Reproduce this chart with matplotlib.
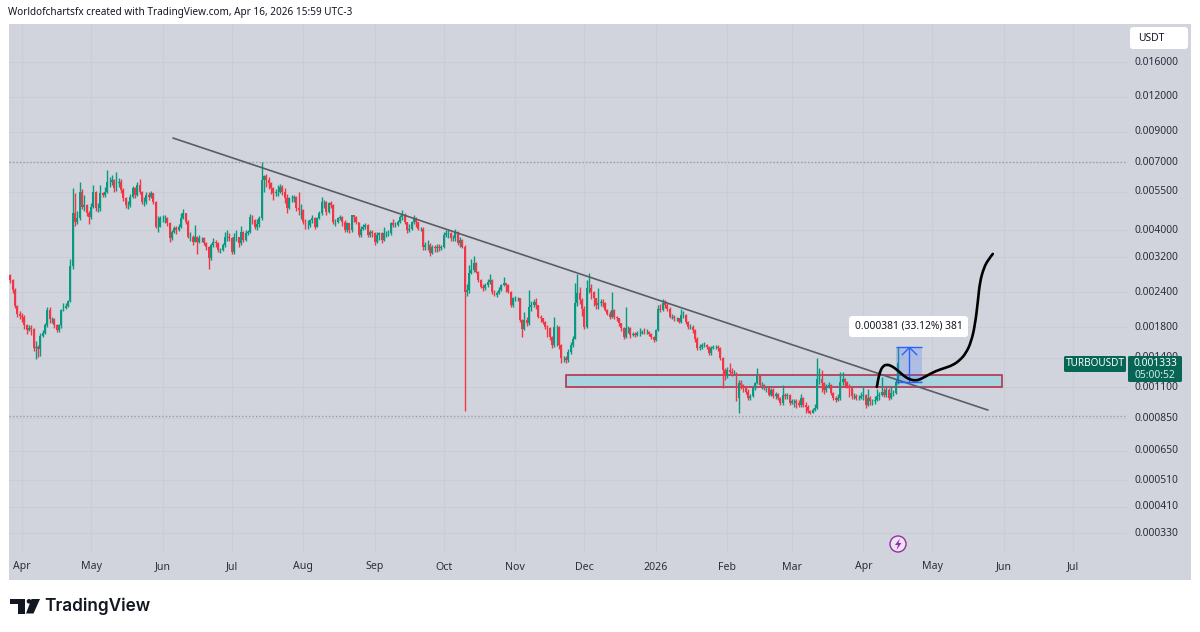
import numpy as np
import matplotlib
matplotlib.use("Agg")
import matplotlib.pyplot as plt
from matplotlib.patches import Rectangle, FancyBboxPatch, Polygon, Circle, PathPatch
from matplotlib.path import Path

W, H = 1200, 632
GREEN = "#089981"
RED = "#F23645"
PANEL = "#D1D4DC"
GRID = "#CACDD5"
TXT = "#2A2E39"

# prices in millionths of USDT, daily candles, first one is 5 days before Apr 1 2025
first_open = 2760
closes = [
    2660,2450,2150,2000,1980,1960,1830,1760,1790,1770,
    1520,1530,1500,1680,1710,1830,2080,1920,1920,1830,
    1760,1830,2080,2110,2150,2230,2980,4600,4295,4414,
    5500,4859,4926,4600,4475,4859,5500,4793,4793,5420,
    5350,5500,5970,5970,6050,5650,5890,5970,5575,5204,
    4926,4926,5276,5650,5350,5810,5500,5063,5063,5350,
    5276,5420,5063,4122,4122,4414,4414,4414,4236,3743,
    3956,4066,4010,4122,4414,4600,4295,3795,3795,3642,
    3795,3642,3743,3743,3593,3495,3175,3544,3642,3593,
    3401,3401,3544,3795,3795,3743,3354,3795,3795,3593,
    3956,3693,3901,3956,4475,4354,4122,4200,4414,6050,
    6240,6055,5890,5650,5425,5500,5500,5730,5500,5200,
    4800,5200,5200,5280,4800,4730,4730,4300,4180,4180,
    4355,4410,4120,4410,4600,5060,5060,4660,4995,4930,
    4290,4290,4410,4475,4290,4010,4235,4010,4530,4475,
    4290,3850,4055,4120,4180,3850,3950,3900,3640,3850,
    3900,3695,3900,3900,3900,4235,4180,4180,4290,4475,
    4530,4290,4010,4055,4290,4410,4290,4055,4055,3495,
    3545,3545,3310,3495,3445,3495,3445,3495,3850,3900,
    3900,3745,3745,3950,3595,3695,3495,2415,2445,2805,
    2885,3045,2845,2655,2515,2480,2550,2620,2655,2415,
    2350,2380,2445,2550,2585,2550,2415,2160,2285,2285,
    2285,1910,1780,1910,1860,2130,2160,2220,2160,1965,
    1935,1885,1810,1785,1665,1555,1810,1810,1555,1395,
    1395,1375,1470,1555,1640,2190,2380,2255,2100,1810,
    2480,2480,2415,2285,2160,2190,2220,2190,2075,2015,
    1965,2075,1965,1935,1860,1785,1665,1785,1785,1690,
    1705,1690,1715,1715,1735,1725,1735,1705,1665,1620,
    1760,2100,2075,2190,2160,2100,1965,1965,1935,1935,
    1885,1990,1990,1885,1810,1810,1760,1640,1515,1535,
    1555,1555,1535,1455,1515,1535,1535,1515,1395,1265,
    1200,1265,1250,1235,1240,1005,1135,1120,1090,1060,
    1005,1018,1090,1135,1213,1120,1120,1090,1090,1032,
    1075,1018,1040,1005,965,1032,1018,1032,965,977,
    977,965,950,1005,950,937,900,888,912,925,
    1180,1180,1135,1075,1105,1120,1047,1005,990,1005,
    1150,1180,1150,1105,1090,1018,1018,1005,1005,1018,
    1032,950,1005,977,977,990,1018,1032,1060,1032,
    1075,1005,1047,1047,1150,1338,
]
highs = [
    2780,2680,2480,2160,2050,2030,1990,1850,1830,1830,
    1790,1610,1560,1720,1760,1860,2130,2130,1960,1940,
    1850,1850,2100,2200,2190,2250,3150,5650,5420,4700,
    5970,5600,5350,4950,4700,5000,5800,5550,5000,5800,
    5500,5700,6570,6200,6300,6100,6450,6150,6100,5650,
    5250,5100,5400,5750,5700,5950,6120,5550,5250,5480,
    5500,5550,5450,5100,4500,4500,4530,4550,4480,4300,
    4000,4150,4150,4200,4600,4750,4620,4350,3950,3850,
    4180,3820,3850,3800,3780,3620,3520,3600,3750,3700,
    3620,3450,3600,3950,4000,3900,3800,3900,4000,3800,
    4150,3980,4020,4000,4560,4550,4400,4380,4500,7000,
    6300,6350,6200,5950,5700,5600,5800,5850,5800,5650,
    5400,5250,5350,5350,5300,5500,4950,4750,4400,4350,
    4400,4520,4450,4480,4700,5280,5150,5100,5050,5100,
    4950,4400,4450,4550,4500,4350,4300,4250,4550,4550,
    4500,4300,4150,4200,4250,4200,4000,4000,3950,3950,
    3950,3950,4100,3980,4000,4300,4400,4280,4350,4520,
    4730,4600,4300,4200,4320,4550,4450,4290,4120,4100,
    3620,3700,3600,3550,3550,3560,3560,3550,3950,4000,
    4020,3950,3850,4060,3980,3800,3720,3530,2560,3000,
    3150,3250,3080,2860,2680,2560,2600,2680,2780,2680,
    2440,2420,2500,2580,2720,2600,2560,2420,2310,2320,
    2310,2290,1930,2040,1960,2450,2240,2270,2290,2170,
    1990,1950,1900,1830,1800,1680,1965,1840,1820,1570,
    1420,1420,1510,1590,1670,2590,2790,2500,2300,2150,
    2650,2820,2560,2420,2300,2480,2280,2280,2210,2100,
    2060,2400,2090,1980,1950,1870,1800,2130,1820,1800,
    1730,1730,1740,1790,1760,1790,1770,1750,1720,1680,
    1780,2160,2180,2280,2260,2190,2120,2010,1990,1960,
    1950,2090,2050,2000,1900,1850,1840,1770,1660,1570,
    1580,1590,1570,1540,1540,1560,1560,1560,1530,1410,
    1290,1300,1340,1290,1270,1250,1170,1170,1130,1110,
    1080,1040,1105,1150,1282,1220,1150,1130,1110,1100,
    1090,1090,1060,1050,1015,1120,1050,1050,1040,1000,
    1000,1000,985,1040,1015,970,945,910,925,960,
    1395,1290,1263,1150,1130,1145,1125,1060,1020,1040,
    1250,1250,1190,1160,1125,1095,1050,1040,1030,1060,
    1110,1040,1080,1020,1000,1020,1080,1060,1198,1090,
    1105,1090,1110,1070,1180,1531,
]
lows = [
    2600,2380,2110,1960,1930,1880,1780,1700,1740,1690,
    1480,1390,1410,1420,1660,1700,1810,1870,1860,1790,
    1730,1730,1790,2060,2100,2130,2220,2900,4150,4200,
    4350,4750,4700,4500,4200,4400,4800,4700,4650,4700,
    5250,5250,5450,5700,5800,5500,5550,5700,5450,5100,
    4800,4780,4850,5200,5200,5300,5400,4950,4900,4950,
    5150,5200,4950,4080,3950,4100,4300,4250,4150,3620,
    3700,3900,3880,3980,4080,4400,4220,3750,3650,3550,
    3620,3300,3600,3620,3550,3400,2920,3130,3500,3500,
    3350,3320,3380,3500,3650,3650,3280,3300,3650,3500,
    3550,3620,3650,3850,3900,4200,4050,4000,4120,4350,
    5500,5700,5600,5400,5150,5300,5300,5450,5350,5000,
    4600,4750,5050,5050,4700,4550,4400,4200,4050,4050,
    4120,4250,4050,4100,4380,4550,4800,4550,4600,4800,
    4200,4150,4250,4350,4150,3950,3950,3900,3950,4300,
    4200,3800,3800,4000,4050,3800,3800,3800,3550,3600,
    3700,3600,3650,3800,3820,3850,4100,4120,4130,4250,
    4350,4200,3920,3950,4000,4200,4100,4000,3980,3400,
    3400,3400,3250,3300,3350,3350,3380,3400,3450,3780,
    3750,3650,3650,3650,3550,3500,3450,900,2330,2390,
    2780,2830,2820,2620,2480,2430,2450,2500,2580,2360,
    2320,2310,2360,2420,2530,2400,2380,2130,2130,2230,
    2240,1880,1660,1760,1820,1840,2060,2120,2100,1940,
    1880,1850,1770,1660,1620,1520,1530,1540,1510,1340,
    1350,1340,1350,1450,1530,1630,2150,2180,1980,1770,
    1790,2380,2280,2150,2100,2100,2140,2120,2050,1990,
    1930,1940,1930,1890,1820,1740,1640,1650,1720,1650,
    1670,1660,1670,1680,1700,1700,1700,1680,1640,1600,
    1610,1740,2040,2050,2110,2060,1940,1930,1900,1890,
    1860,1860,1950,1850,1770,1770,1720,1590,1490,1490,
    1510,1530,1510,1430,1430,1500,1510,1480,1370,1095,
    1170,1190,1210,1200,1210,980,885,1080,1060,1040,
    990,990,1010,1075,1130,1100,1080,1070,1060,1020,
    1020,1005,1000,990,945,950,1000,1000,945,960,
    930,925,930,930,935,890,885,880,885,900,
    915,1130,1060,1040,1060,1090,1030,990,970,980,
    990,1120,1105,1090,1010,1000,995,990,985,1000,
    990,925,940,950,950,960,980,990,1020,1010,
    1015,990,995,1020,1040,1130,
]

# axis labels
month_days = [0, 30, 61, 91, 122, 153, 183, 214, 244, 275, 306, 334, 365, 395, 426, 456]
month_labels = ["Apr", "May", "Jun", "Jul", "Aug", "Sep", "Oct", "Nov", "Dec", "2026",
                "Feb", "Mar", "Apr", "May", "Jun", "Jul"]
price_ticks = [0.016, 0.012, 0.009, 0.007, 0.0055, 0.004, 0.0032, 0.0024, 0.0018,
               0.0014, 0.0011, 0.00085, 0.00065, 0.00051, 0.00041, 0.00033]
dotted_prices = [0.007, 0.00087]

# drawings on the chart
trend_days = [65.5, 419.1]
trend_prices = [0.008555, 0.00091]
zone_days = [236, 425.1]
zone_prices = [0.001101, 0.001214]
measure_days = [379.2, 390.5]
measure_prices = [0.00115, 0.001531]
sketch_days = [370.9, 371.4, 372.2, 373.5, 375.3, 377.4, 380.0, 382.6, 385.2, 387.8, 390.0,
               393.1, 396.5, 400.4, 403.9, 407.0, 409.6, 411.8, 413.5, 414.8, 415.6, 417.3, 419.1, 421.2]
sketch_prices = [1101, 1166, 1245, 1308, 1325, 1308, 1261, 1205, 1170, 1160, 1175,
                 1214, 1256, 1287, 1318, 1374, 1456, 1595, 1834, 2253, 2613, 2932, 3131, 3293]

days = np.arange(-5, 381)
c = np.array(closes) * 1e-6
o = np.concatenate([[first_open * 1e-6], c[:-1]])
hi = np.maximum(np.array(highs) * 1e-6, np.maximum(o, c))
lo = np.minimum(np.array(lows) * 1e-6, np.minimum(o, c))
up = c >= o
col = np.where(up, GREEN, RED)


def fx(x):
    return x / W


def fy(y):
    return 1 - y / H


fig = plt.figure(figsize=(12, 6.32), dpi=100, facecolor="white")
plt.rcParams["font.family"] = ["Noto Sans", "DejaVu Sans"]
ax = fig.add_axes([fx(9), fy(580), fx(1182), 556 / H])
ax.set_facecolor(PANEL)
ax.set_yscale("log")
ax.set_xlim(-5.64, 507.2)
ax.set_ylim(224.5e-6, 21880e-6)
for s in ax.spines.values():
    s.set_visible(False)
ax.tick_params(which="both", left=False, bottom=False, labelleft=False, labelbottom=False)
ax.minorticks_off()

right_day = 479.4
bottom_price = 280e-6
ax.vlines(month_days, bottom_price, 21880e-6, color=GRID, lw=0.8, zorder=1)
ax.hlines(price_ticks, -5.64, right_day, color=GRID, lw=0.8, zorder=1)
ax.hlines(dotted_prices, -5.64, right_day, color="#989CA6", lw=1, linestyles=(0, (1, 1.5)), zorder=2)

ax.add_patch(Rectangle((zone_days[0], zone_prices[0]), zone_days[1] - zone_days[0],
                       zone_prices[1] - zone_prices[0], facecolor="#A9D3DF",
                       edgecolor="#B5344C", lw=1.2, zorder=2))

ax.vlines(days, lo, hi, color=col, lw=1, zorder=3)
ax.bar(days, np.abs(c - o), bottom=np.minimum(o, c), width=0.85, color=col, linewidth=0, zorder=4)

ax.plot(trend_days, trend_prices, color="#5A5C66", lw=1.2, zorder=5, solid_capstyle="round")

ax.add_patch(Rectangle((measure_days[0], measure_prices[0]), measure_days[1] - measure_days[0],
                       measure_prices[1] - measure_prices[0], facecolor="#2962FF", alpha=0.2,
                       edgecolor="none", zorder=5))
ax.hlines(measure_prices, measure_days[0], measure_days[1], color="#2962FF", lw=1, zorder=6)
mid = sum(measure_days) / 2
ax.vlines([mid], measure_prices[0], measure_prices[1], color="#2962FF", lw=1, zorder=6)
head = Path([(-1, -1), (0, 0), (1, -1)], [Path.MOVETO, Path.LINETO, Path.LINETO])
ax.plot([mid], [measure_prices[1]], marker=head, ms=11, mfc="none", mec="#2962FF", mew=1, zorder=6)

# the hand drawn curve, smoothed with quadratic pieces between the picked points
sk = np.column_stack([sketch_days, np.array(sketch_prices) * 1e-6])
verts = [tuple(sk[0])]
codes = [Path.MOVETO]
for i in range(1, len(sk) - 1):
    end = sk[-1] if i == len(sk) - 2 else np.sqrt(sk[i] * sk[i + 1])
    verts += [tuple(sk[i]), tuple(end)]
    codes += [Path.CURVE3, Path.CURVE3]
ax.add_patch(PathPatch(Path(verts, codes), fill=False, edgecolor="black", lw=1.9, zorder=7, capstyle="round"))

for d, lab in zip(month_days, month_labels):
    fig.text(fx(22 + 2.305 * d), fy(567), lab, ha="center", va="center", fontsize=7.6, color=TXT,
             fontweight="bold" if lab == "2026" else "normal")

for p in price_ticks:
    ax.text(482.9, p, "%.6f" % p, ha="left", va="center", fontsize=7.4, color=TXT, zorder=8)

# chrome in figure pixels
fig.text(fx(8), fy(12.5), "Worldofchartsfx created with TradingView.com, Apr 16, 2026 15:59 UTC-3",
         ha="left", va="center", fontsize=7.2, color="#131722")

pix = matplotlib.transforms.Affine2D().scale(1 / W, 1 / H) + fig.transFigure


def box(x0, y0, x1, y1, color, edge="none", rad=0, z=20):
    p = FancyBboxPatch((x0, H - y1), x1 - x0, y1 - y0, boxstyle="round,pad=0,rounding_size=%g" % rad,
                       facecolor=color, edgecolor=edge, lw=0.6, zorder=z, transform=pix)
    fig.add_artist(p)


box(1130, 27, 1188, 49, "white", rad=3)
fig.text(fx(1138), fy(38.5), "USDT", ha="left", va="center", fontsize=7.4, color="#131722", zorder=21)

box(1064, 356, 1126, 372, "#056656", rad=1.5)
box(1128, 356, 1182, 382, "#056656", rad=1.5)
fig.text(fx(1095), fy(364), "TURBOUSDT", ha="center", va="center", fontsize=7.2, color="white",
         fontweight="medium", zorder=21)
fig.text(fx(1155), fy(363.5), "0.001333", ha="center", va="center", fontsize=7.4, color="white",
         fontweight="medium", zorder=21)
fig.text(fx(1155), fy(375.5), "05:00:52", ha="center", va="center", fontsize=7.4, color="#D6E8E4", zorder=21)

box(849, 316, 968, 337, "white", rad=3)
fig.text(fx(908.5), fy(326.5), "0.000381 (33.12%) 381", ha="center", va="center", fontsize=7.4,
         color="#131722", zorder=21)

# lightning mark
fig.add_artist(Circle((898, H - 544), 8, facecolor="#E9E6EE", edgecolor="#9C27B0", lw=1, zorder=20, transform=pix))
bolt = [(900, 538.5), (895, 545), (898, 545), (896.5, 550), (901.5, 543), (898.5, 543)]
fig.add_artist(Polygon([(a, H - b) for a, b in bolt], closed=True, facecolor="#9C27B0", edgecolor="none",
                       zorder=21, transform=pix))

# logo
logo_t = [(10, 599), (25, 599), (25, 613.5), (17.5, 613.5), (17.5, 604), (10, 604)]
logo_v = [(31.5, 599), (40, 599), (33.5, 613.5), (26, 613.5)]
for shape in (logo_t, logo_v):
    fig.add_artist(Polygon([(a, H - b) for a, b in shape], closed=True, facecolor="#131722",
                           edgecolor="none", zorder=21, transform=pix))
fig.add_artist(Circle((29, H - 601.3), 2.3, facecolor="#131722", edgecolor="none", zorder=21, transform=pix))
fig.text(fx(44), fy(606), "TradingView", ha="left", va="center", fontsize=12.4, fontweight="semibold",
         family=["Inter", "DejaVu Sans"], color="#131722")

fig.savefig("out.png", dpi=100, facecolor="white")
